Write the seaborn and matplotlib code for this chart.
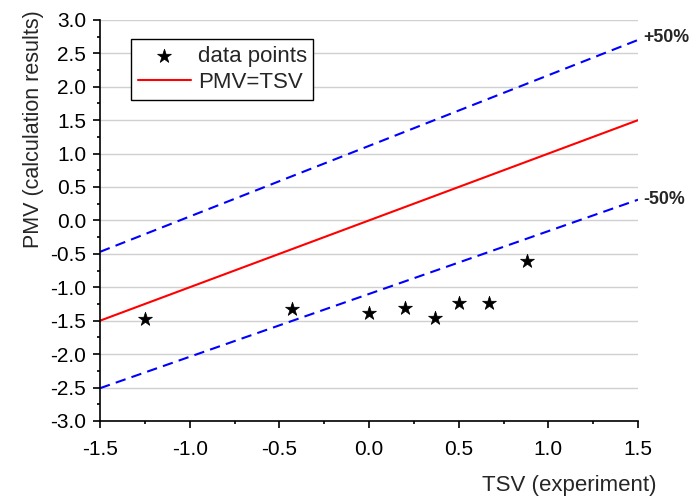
import numpy as np
import pandas as pd
import matplotlib
matplotlib.use("Agg")
import matplotlib.pyplot as plt
from matplotlib.ticker import MultipleLocator
import seaborn as sns

tsv = [-1.25, -0.43, 0.0, 0.2, 0.37, 0.5, 0.67, 0.88]
pmv = [-1.48, -1.33, -1.38, -1.31, -1.46, -1.24, -1.24, -0.61]

# Reference lines (end points at the axis limits)
line_x = [-1.5, 1.5]
equal_y = [-1.5, 1.5]
upper_y = [-0.47, 2.70]
lower_y = [-2.51, 0.31]

sns.set_theme(style="white")
plt.rcParams["font.family"] = ["Liberation Sans", "DejaVu Sans"]

fig = plt.figure(figsize=(6.92, 4.97), dpi=100)
ax = fig.add_axes([0.1445, 0.153, 0.9220 - 0.1445, 0.960 - 0.153])

ax.yaxis.grid(True, color="#d0d0d0", linewidth=1.0)
ax.set_axisbelow(True)

sns.lineplot(x=line_x, y=upper_y, ax=ax, color="#0000ff", linewidth=1.5,
             linestyle=(0, (5, 3)), legend=False)
sns.lineplot(x=line_x, y=lower_y, ax=ax, color="#0000ff", linewidth=1.5,
             linestyle=(0, (5, 3)), legend=False)
sns.lineplot(x=line_x, y=equal_y, ax=ax, color="#ff0000", linewidth=1.5,
             label="PMV=TSV")
sns.scatterplot(x=tsv, y=pmv, ax=ax, marker="*", s=110, color="black",
                edgecolor="black", linewidth=0.5, label="data points", zorder=5)

ax.set_xlim(-1.5, 1.5)
ax.set_ylim(-3.0, 3.0)
ax.xaxis.set_major_locator(MultipleLocator(0.5))
ax.xaxis.set_minor_locator(MultipleLocator(0.25))
ax.yaxis.set_major_locator(MultipleLocator(0.5))
ax.yaxis.set_minor_locator(MultipleLocator(0.25))
ax.xaxis.set_major_formatter(plt.FormatStrFormatter("%.1f"))
ax.yaxis.set_major_formatter(plt.FormatStrFormatter("%.1f"))

for side in ["top", "right"]:
    ax.spines[side].set_visible(False)
for side in ["left", "bottom"]:
    ax.spines[side].set_color("black")
    ax.spines[side].set_linewidth(1.2)

ax.tick_params(which="both", direction="out", color="black", width=1.2,
               left=True, bottom=True, labelsize=15, labelcolor="black")
ax.tick_params(which="major", length=5)
ax.tick_params(which="minor", length=2.2)
ax.tick_params(axis="x", which="major", pad=9)
ax.tick_params(axis="y", which="major", pad=5)

ax.set_xlabel("")
ax.set_ylabel("")
fig.text(657 / 692, 1 - 485 / 497, "TSV (experiment)", ha="right",
         va="center", fontsize=16)
fig.text(34 / 692, 1 - 129 / 497, "PMV (calculation results)", ha="center",
         va="center", rotation=90, fontsize=15.5)

ax.text(1.53, upper_y[1] + 0.03, "+50%", ha="left", va="center", fontsize=12.8,
        fontweight="bold", clip_on=False)
ax.text(1.53, lower_y[1] + 0.0, "-50%", ha="left", va="center", fontsize=12.8,
        fontweight="bold", clip_on=False)

handles, labels = ax.get_legend_handles_labels()
order = [labels.index("data points"), labels.index("PMV=TSV")]
leg = ax.legend([handles[i] for i in order], [labels[i] for i in order],
                loc="upper left", bbox_to_anchor=(0.0576, 0.9526),
                borderaxespad=0, fontsize=16, frameon=True, fancybox=False,
                framealpha=1, borderpad=0.3, handlelength=2.4,
                labelspacing=0.25, handletextpad=0.3)
leg.get_frame().set_edgecolor("black")
leg.get_frame().set_linewidth(1.0)

fig.savefig("out.png", dpi=100)
